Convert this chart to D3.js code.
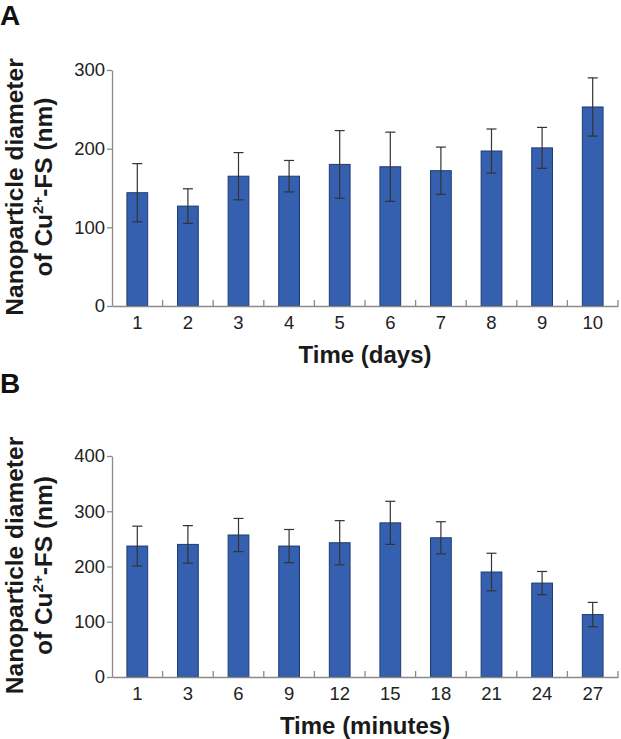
<!DOCTYPE html>
<html>
<head>
<meta charset="utf-8">
<script src="https://cdn.jsdelivr.net/npm/d3@7"></script>
<style>
html,body{margin:0;padding:0;background:#fff;}
svg{display:block;font-family:"Liberation Sans",Arial,Helvetica,sans-serif;}
</style>
</head>
<body>
<svg id="chart" width="621" height="739"></svg>
<script>
// Panel A data
const daysCategories = ["1","2","3","4","5","6","7","8","9","10"];
const daysMeans = [144, 127, 165, 165, 180, 177, 172, 197, 201, 253];
const daysErrors = [37, 22, 30, 20, 43, 44, 30, 28, 26, 37];
const daysTicks = [0, 100, 200, 300];

// Panel B data
const minutesCategories = ["1","3","6","9","12","15","18","21","24","27"];
const minutesMeans = [237, 240, 257, 237, 243, 279, 252, 190, 170, 113];
const minutesErrors = [36, 34, 30, 30, 40, 39, 29, 34, 21, 22];
const minutesTicks = [0, 100, 200, 300, 400];

const svg = d3.select("#chart");
const barFill = "#3560b0", barStroke = "#1e3a73", axisColor = "#8a8a8a", textColor = "#222";

function panel(cfg) {
  const {letter, letterY, cats, means, errs, ticks, yMax, top, bottom, xTitle} = cfg;
  const left = 112, right = 618;
  const g = svg.append("g");
  const x = d3.scaleBand().domain(cats).range([left, right]).paddingInner(0).paddingOuter(0);
  const y = d3.scaleLinear().domain([0, yMax]).range([bottom, top]);

  g.append("text").attr("x", 0).attr("y", letterY).attr("font-size", 28).attr("font-weight", "bold")
    .attr("fill", "#111").text(letter);

  // bars
  const bw = x.bandwidth() * 0.41;
  g.selectAll("rect.bar").data(cats).join("rect")
    .attr("x", (d) => x(d) + x.bandwidth()/2 - bw/2)
    .attr("y", (d, i) => y(means[i]))
    .attr("width", bw)
    .attr("height", (d, i) => y(0) - y(means[i]))
    .attr("fill", barFill).attr("stroke", barStroke).attr("stroke-width", 1);

  // error bars
  const cap = 5;
  cats.forEach((d, i) => {
    const cx = x(d) + x.bandwidth()/2;
    const y1 = y(means[i] + errs[i]), y2 = y(means[i] - errs[i]);
    g.append("line").attr("x1", cx).attr("x2", cx).attr("y1", y1).attr("y2", y2)
      .attr("stroke", "#333").attr("stroke-width", 1.2);
    [y1, y2].forEach(yy => g.append("line").attr("x1", cx - cap).attr("x2", cx + cap)
      .attr("y1", yy).attr("y2", yy).attr("stroke", "#333").attr("stroke-width", 1.2));
  });

  // y axis
  const ya = g.append("g").attr("transform", `translate(${left},0)`)
    .call(d3.axisLeft(y).tickValues(ticks).tickSize(5).tickPadding(2).tickSizeOuter(0));
  ya.select(".domain").attr("stroke", axisColor).attr("stroke-width", 1.3);
  ya.selectAll(".tick line").attr("stroke", axisColor).attr("stroke-width", 1.3);
  ya.selectAll(".tick text").attr("font-size", 18.5).attr("fill", textColor)
    .attr("font-family", "Liberation Sans, Arial, sans-serif");

  // x axis
  const xa = g.append("g").attr("transform", `translate(0,${bottom})`)
    .call(d3.axisBottom(x).tickSize(0).tickPadding(10).tickSizeOuter(0));
  xa.select(".domain").attr("stroke", axisColor).attr("stroke-width", 1.3);
  xa.selectAll(".tick text").attr("font-size", 18.5).attr("fill", textColor)
    .attr("font-family", "Liberation Sans, Arial, sans-serif");
  // inward ticks at band boundaries
  cats.forEach((d, i) => {
    const bx = i < cats.length - 1 ? x(cats[i+1]) : right;
    g.append("line").attr("x1", bx).attr("x2", bx).attr("y1", bottom).attr("y2", bottom - 6)
      .attr("stroke", axisColor).attr("stroke-width", 1.3);
  });

  // axis title
  g.append("text").attr("x", (left + right)/2).attr("y", bottom + 57).attr("text-anchor", "middle")
    .attr("font-size", 24).attr("font-weight", "bold").attr("fill", "#1a1a1a").text(xTitle);

  // y title (two lines)
  const cy = (top + bottom)/2 - 1;
  const yt = g.append("text").attr("transform", `translate(23,${cy}) rotate(-90)`)
    .attr("text-anchor", "middle").attr("font-size", 24.5).attr("font-weight", "bold").attr("fill", "#1a1a1a");
  yt.append("tspan").attr("x", 0).attr("dy", 0).text("Nanoparticle diameter");
  const t2 = yt.append("tspan").attr("x", 0).attr("dy", 29);
  t2.append("tspan").text("of Cu");
  t2.append("tspan").attr("font-size", 15).attr("dy", -9).text("2+");
  t2.append("tspan").attr("dy", 9).text("-FS (nm)");
}

panel({letter: "A", letterY: 25, cats: daysCategories, means: daysMeans, errs: daysErrors,
  ticks: daysTicks, yMax: 300, top: 70, bottom: 306, xTitle: "Time (days)"});
panel({letter: "B", letterY: 393, cats: minutesCategories, means: minutesMeans, errs: minutesErrors,
  ticks: minutesTicks, yMax: 400, top: 456, bottom: 677, xTitle: "Time (minutes)"});
</script>
</body>
</html>
